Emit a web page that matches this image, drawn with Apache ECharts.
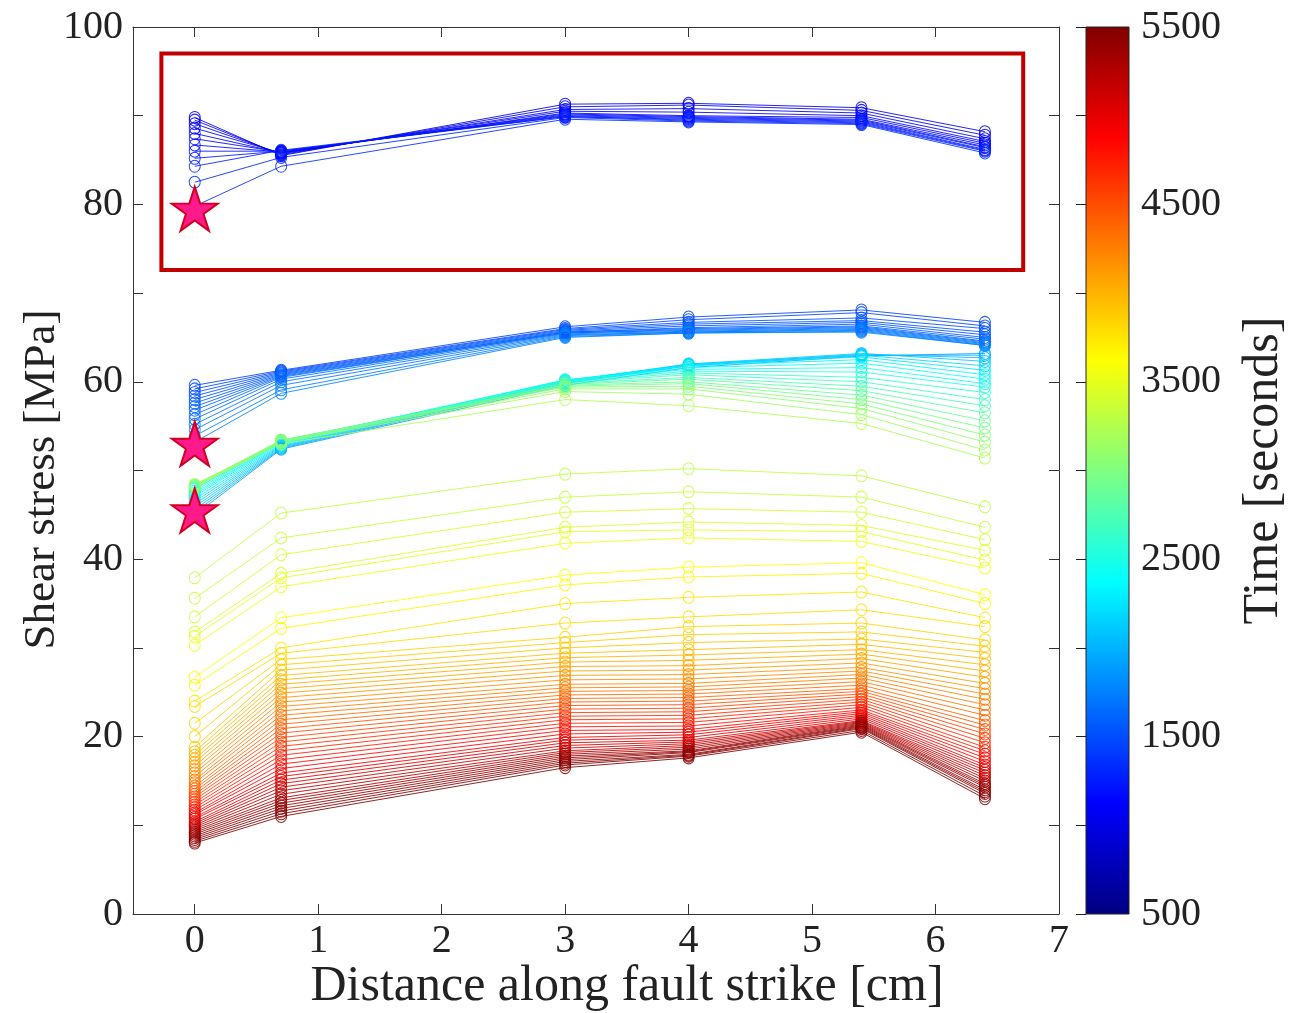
<!DOCTYPE html>
<html>
<head>
<meta charset="utf-8">
<script src="https://cdn.jsdelivr.net/npm/echarts@6/dist/echarts.min.js"></script>
<style>
html,body{margin:0;padding:0;background:#fff;}
#chart{width:1294px;height:1013px;}
</style>
</head>
<body>
<div id="chart"></div>
<script>
// ---- data ----
const xPositions = [0, 0.7, 3, 4, 5.4, 6.4];
const xTickValues = [0, 1, 2, 3, 4, 5, 6, 7];

// group A (top, inside red box)
const timesA = [1000, 1030, 1060, 1090, 1120, 1150, 1180, 1210, 1240, 1270, 1300, 1330];
const stressA = [
  [89.8, 85.5, 91.3, 91.4, 90.9, 88.2],
  [89.5, 85.6, 91.0, 91.2, 90.6, 87.8],
  [89.1, 85.7, 90.7, 90.8, 90.3, 87.4],
  [88.6, 85.8, 90.5, 90.4, 90.0, 87.1],
  [88.0, 85.8, 90.3, 90.0, 89.8, 86.9],
  [87.4, 85.9, 90.2, 89.9, 89.6, 86.7],
  [86.7, 85.9, 90.1, 89.8, 89.5, 86.5],
  [86.0, 86.0, 90.0, 89.7, 89.4, 86.4],
  [85.2, 86.0, 89.9, 89.6, 89.3, 86.2],
  [84.3, 86.1, 89.9, 89.5, 89.2, 86.1],
  [82.5, 85.3, 89.8, 89.4, 89.1, 86.0],
  [79.8, 84.3, 89.6, 89.3, 89.0, 85.8]
];

// group B
const timesB = [1450, 1475, 1500, 1525, 1550, 1575, 1600, 1625, 1650, 1675, 1700, 1725, 1750, 1775];
const stressB = [
  [59.6, 61.3, 66.2, 67.3, 68.1, 66.7],
  [59.2, 61.2, 66.0, 67.0, 67.8, 66.3],
  [58.8, 61.1, 65.9, 66.7, 67.2, 66.0],
  [58.4, 61.0, 65.8, 66.5, 66.9, 65.6],
  [58.0, 60.9, 65.7, 66.3, 66.7, 65.3],
  [57.6, 60.8, 65.6, 66.1, 66.5, 65.0],
  [57.2, 60.7, 65.6, 66.0, 66.3, 64.8],
  [56.8, 60.6, 65.5, 65.9, 66.2, 64.6],
  [56.3, 60.5, 65.5, 65.8, 66.1, 64.5],
  [55.8, 60.3, 65.4, 65.7, 66.0, 64.4],
  [55.2, 60.0, 65.3, 65.6, 65.9, 64.3],
  [54.6, 59.6, 65.2, 65.6, 65.8, 64.2],
  [53.9, 59.1, 65.1, 65.5, 65.7, 64.1],
  [53.2, 58.7, 65.0, 65.5, 65.6, 64.1]
];

// group C (cyan - green)
const timesC = [1900, 1970, 2040, 2110, 2180, 2250, 2320, 2390, 2460, 2530, 2600, 2670, 2740, 2810, 2880, 2950, 3020, 3090, 3160, 3230];
const stressC = [
  [45.0, 52.4, 59.6, 61.6, 62.9, 63.2],
  [45.3, 52.5, 59.8, 61.8, 63.0, 63.0],
  [45.6, 52.6, 59.9, 61.9, 63.1, 62.7],
  [45.9, 52.7, 60.0, 62.0, 63.2, 62.3],
  [46.2, 52.8, 60.1, 62.0, 63.0, 61.8],
  [46.5, 52.9, 60.1, 61.9, 62.8, 61.3],
  [46.8, 53.0, 60.2, 61.8, 62.5, 60.8],
  [47.1, 53.1, 60.2, 61.6, 62.1, 60.3],
  [47.3, 53.2, 60.2, 61.4, 61.6, 59.8],
  [47.5, 53.2, 60.1, 61.2, 61.1, 59.4],
  [47.7, 53.3, 60.0, 61.0, 60.5, 58.8],
  [47.9, 53.3, 59.9, 60.8, 60.0, 58.0],
  [48.0, 53.3, 59.8, 60.5, 59.5, 57.3],
  [48.1, 53.4, 59.7, 60.3, 59.0, 56.5],
  [48.2, 53.4, 59.6, 60.0, 58.5, 55.6],
  [48.3, 53.4, 59.5, 59.8, 58.0, 54.8],
  [48.3, 53.4, 59.4, 59.5, 57.5, 54.0],
  [48.4, 53.3, 59.2, 59.2, 57.0, 53.2],
  [48.4, 53.2, 58.9, 58.6, 56.3, 52.3],
  [48.3, 53.0, 58.0, 57.3, 55.3, 51.4]
];

// group D (yellow-green)
const timesD = [3300, 3350, 3400, 3450, 3500, 3550];
const stressD = [
  [37.9, 45.2, 49.6, 50.2, 49.4, 45.9],
  [35.6, 42.4, 47.0, 47.6, 47.0, 43.6],
  [33.5, 40.5, 45.3, 45.7, 45.3, 42.2],
  [31.8, 38.4, 43.6, 44.2, 43.8, 41.0],
  [31.3, 37.9, 43.1, 43.3, 43.1, 39.9],
  [30.3, 36.9, 41.8, 42.4, 42.0, 39.0]
];

// group E (yellow)
const timesE = [3620, 3680];
const stressE = [
  [26.7, 33.4, 38.2, 39.1, 39.6, 36.0],
  [25.8, 32.2, 37.1, 38.0, 38.4, 35.0]
];

// group F (orange - dark red), one column per fault position
const timesF = [3750, 3790, 3830, 3870, 3910, 3950, 3990, 4030, 4070, 4110, 4150, 4190, 4230, 4270, 4310, 4350,
  4400, 4450, 4500, 4550, 4600, 4650, 4700, 4750, 4800, 4850, 4900, 4950, 5000, 5050, 5100, 5150, 5200, 5250, 5300,
  5340, 5380, 5410, 5440, 5460, 5480, 5500];
const stressF_x0 = [24.0, 23.4, 21.5, 20.0, 18.8, 18.3, 17.9, 17.5, 17.1, 16.7, 16.3, 15.9, 15.5, 15.1, 14.8, 14.4, 14.1, 13.8, 13.5, 13.2, 12.9, 12.6, 12.3, 12.0, 11.7, 11.4, 11.2, 10.9, 10.7, 10.4, 10.2, 10.0, 9.8, 9.6, 9.4, 9.2, 9.0, 8.8, 8.6, 8.4, 8.2, 8.0];
const stressF_x07 = [30.0, 29.4, 28.7, 28.1, 27.5, 26.9, 26.4, 25.9, 25.4, 24.9, 24.4, 23.9, 23.4, 22.9, 22.4, 21.9, 21.4, 20.9, 20.4, 19.9, 19.4, 18.9, 18.4, 17.9, 17.4, 16.9, 16.4, 15.9, 15.5, 15.1, 14.7, 14.3, 13.9, 13.5, 13.1, 12.8, 12.5, 12.2, 11.9, 11.6, 11.3, 11.0];
const stressF_x3 = [35.0, 32.8, 31.2, 30.6, 30.0, 29.4, 28.9, 28.4, 27.9, 27.4, 26.9, 26.4, 25.9, 25.5, 25.1, 24.7, 24.3, 23.9, 23.5, 23.1, 22.7, 22.3, 21.9, 21.5, 21.1, 20.7, 20.3, 19.9, 19.6, 19.3, 19.0, 18.7, 18.4, 18.2, 18.0, 17.8, 17.6, 17.4, 17.2, 17.0, 16.8, 16.5];
const stressF_x4 = [35.7, 33.5, 32.4, 31.5, 30.6, 29.8, 29.2, 28.6, 28.0, 27.5, 27.0, 26.5, 26.0, 25.6, 25.2, 24.8, 24.4, 24.0, 23.6, 23.2, 22.8, 22.4, 22.0, 21.6, 21.2, 20.8, 20.5, 20.2, 19.9, 19.6, 19.4, 19.2, 19.0, 18.8, 18.6, 18.4, 18.3, 18.2, 18.0, 17.9, 17.8, 17.6];
const stressF_x54 = [36.3, 34.3, 32.8, 31.8, 31.0, 30.4, 29.8, 29.3, 28.8, 28.3, 27.8, 27.4, 27.0, 26.6, 26.2, 25.8, 25.4, 25.1, 24.8, 24.5, 24.2, 23.9, 23.6, 23.3, 23.0, 22.8, 22.6, 22.4, 22.2, 22.0, 21.8, 21.7, 21.6, 21.5, 21.4, 21.3, 21.2, 21.1, 21.0, 20.9, 20.7, 20.5];
const stressF_x64 = [33.4, 32.4, 30.9, 30.2, 29.5, 28.8, 28.1, 27.4, 26.7, 26.0, 25.4, 24.8, 24.2, 23.6, 23.0, 22.4, 21.8, 21.3, 20.8, 20.3, 19.8, 19.3, 18.8, 18.4, 18.0, 17.6, 17.2, 16.8, 16.5, 16.2, 15.9, 15.6, 15.3, 15.0, 14.7, 14.5, 14.3, 14.0, 13.8, 13.6, 13.3, 13.0];

// stars (onset markers) and highlight box
const starPoints = [[0, 79.5], [0, 53.0], [0, 45.5]];
const boxCorners = [[-0.27, 97.0], [6.71, 72.6]];

// colour bar
const timeRange = [500, 5500];

// ---- helpers ----
function clamp(v) { return Math.max(0, Math.min(1, v)); }
function jet(t) {
  const r = clamp(1.5 - Math.abs(4 * t - 3));
  const g = clamp(1.5 - Math.abs(4 * t - 2));
  const b = clamp(1.5 - Math.abs(4 * t - 1));
  return 'rgb(' + Math.round(r * 255) + ',' + Math.round(g * 255) + ',' + Math.round(b * 255) + ')';
}
function timeColor(v) { return jet((v - timeRange[0]) / (timeRange[1] - timeRange[0])); }

const groups = [
  [timesA, stressA], [timesB, stressB], [timesC, stressC], [timesD, stressD], [timesE, stressE],
  [timesF, timesF.map((_, i) => [stressF_x0[i], stressF_x07[i], stressF_x3[i], stressF_x4[i], stressF_x54[i], stressF_x64[i]])]
];

const FONT = 'Liberation Serif';
const series = [];
groups.forEach(([times, rows]) => {
  rows.forEach((row, i) => {
    const c = timeColor(times[i]);
    series.push({
      type: 'line',
      xAxisIndex: 0, yAxisIndex: 0,
      data: xPositions.map((x, j) => [x, row[j]]),
      symbol: 'circle',
      symbolSize: [11, 12],
      silent: true,
      lineStyle: { color: c, width: 1, opacity: 0.85 },
      itemStyle: { color: 'rgba(0,0,0,0)', borderColor: c, borderWidth: 1, opacity: 0.85 },
      z: 2
    });
  });
});

// highlight box
series.push({
  type: 'line', xAxisIndex: 0, yAxisIndex: 0, data: [], silent: true,
  markArea: {
    silent: true,
    itemStyle: { color: 'rgba(0,0,0,0)', borderColor: '#c00000', borderWidth: 4 },
    data: [[{ coord: boxCorners[0] }, { coord: boxCorners[1] }]]
  },
  z: 5
});

// stars
series.push({
  type: 'scatter', xAxisIndex: 0, yAxisIndex: 0,
  data: starPoints,
  symbol: 'path://M50,0 L61.2,34.5 L97.6,34.5 L68.2,55.9 L79.4,90.5 L50,69.1 L20.6,90.5 L31.8,55.9 L2.4,34.5 L38.8,34.5 Z',
  symbolSize: [46, 44],
  silent: true,
  itemStyle: { color: '#ff1a8c', borderColor: '#d10020', borderWidth: 2, opacity: 1 },
  z: 10
});

// colour bar
const stops = [0, 0.125, 0.375, 0.625, 0.875, 1].map(o => ({ offset: o, color: jet(o) }));
series.push({
  type: 'custom', xAxisIndex: 2, yAxisIndex: 2,
  data: [[timeRange[0], timeRange[1]]],
  silent: true,
  clip: false,
  renderItem: function (params, api) {
    const p0 = api.coord([0, api.value(0)]);
    const p1 = api.coord([1, api.value(1)]);
    return {
      type: 'rect',
      shape: { x: p0[0], y: p1[1], width: p1[0] - p0[0], height: p0[1] - p1[1] },
      style: {
        fill: { type: 'linear', x: 0, y: 1, x2: 0, y2: 0, colorStops: stops },
        stroke: '#222', lineWidth: 1
      }
    };
  },
  z: 1
});

const axisLineStyle = { onZero: false, lineStyle: { color: '#333', width: 1 } };
const tickStyle = { inside: true, length: 10, lineStyle: { color: '#333', width: 1 } };
const labelStyle = { fontFamily: FONT, fontSize: 40, color: '#222' };

const option = {
  animation: false,
  backgroundColor: '#fff',
  grid: [
    { left: 133, top: 27, right: 235, bottom: 99, containLabel: false, outerBoundsMode: 'none' },
    { left: 1086, top: 27, right: 165, bottom: 99, containLabel: false, outerBoundsMode: 'none' }
  ],
  xAxis: [
    {
      type: 'value', gridIndex: 0, min: -0.5, max: 7, position: 'bottom',
      axisLine: axisLineStyle,
      axisTick: Object.assign({ customValues: xTickValues }, tickStyle),
      axisLabel: Object.assign({ customValues: xTickValues, margin: 7, formatter: v => String(v) }, labelStyle),
      splitLine: { show: false },
      name: 'Distance along fault strike [cm]', nameLocation: 'middle', nameGap: 48, nameMoveOverlap: false,
      nameTextStyle: { fontFamily: FONT, fontSize: 50, color: '#222', padding: [0, 0, 0, 62] }
    },
    {
      type: 'value', gridIndex: 0, min: -0.5, max: 7, position: 'top',
      axisLine: axisLineStyle,
      axisTick: Object.assign({ customValues: xTickValues }, tickStyle),
      axisLabel: { show: false },
      splitLine: { show: false }
    },
    {
      type: 'value', gridIndex: 1, min: 0, max: 1, show: false
    }
  ],
  yAxis: [
    {
      type: 'value', gridIndex: 0, min: 0, max: 100, interval: 10, position: 'left',
      axisLine: axisLineStyle,
      axisTick: tickStyle,
      axisLabel: Object.assign({ margin: 10, formatter: v => (v % 20 === 0 ? String(v) : '') }, labelStyle),
      splitLine: { show: false },
      name: 'Shear stress [MPa]', nameLocation: 'middle', nameGap: 68, nameRotate: 90, nameMoveOverlap: false,
      nameTextStyle: { fontFamily: FONT, fontSize: 45, color: '#222', padding: [0, 18, 0, 0] }
    },
    {
      type: 'value', gridIndex: 0, min: 0, max: 100, interval: 10, position: 'right',
      axisLine: axisLineStyle,
      axisTick: tickStyle,
      axisLabel: { show: false },
      splitLine: { show: false }
    },
    {
      type: 'value', gridIndex: 1, min: timeRange[0], max: timeRange[1], interval: 1000, position: 'right',
      axisLine: { show: false },
      axisTick: { inside: true, length: 10, lineStyle: { color: '#222', width: 1 } },
      minorTick: { show: true, splitNumber: 2, length: 10, lineStyle: { color: '#222', width: 1 } },
      axisLabel: Object.assign({ margin: 12, formatter: v => String(v) }, labelStyle),
      splitLine: { show: false },
      name: 'Time [seconds]', nameLocation: 'middle', nameGap: 110, nameRotate: 90, nameMoveOverlap: false,
      nameTextStyle: { fontFamily: FONT, fontSize: 50, color: '#222' }
    }
  ],
  series: series
};

const chart = echarts.init(document.getElementById('chart'), null, { renderer: 'canvas' });
chart.setOption(option);
</script>
</body>
</html>
